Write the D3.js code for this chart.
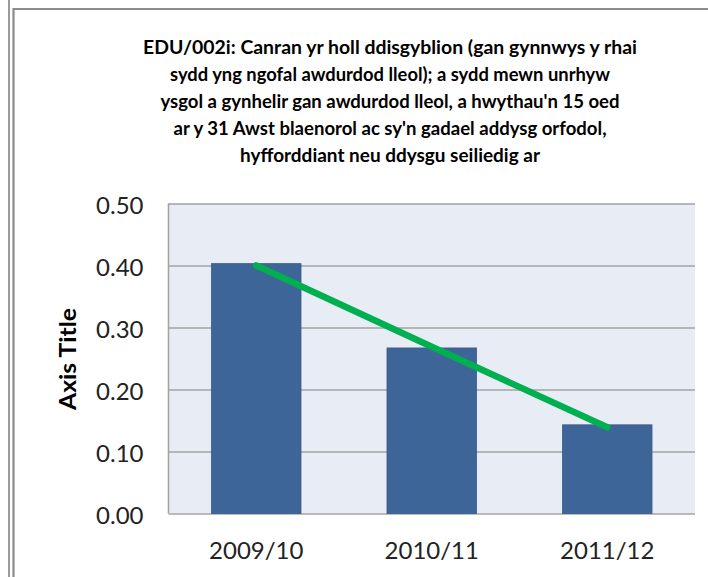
<!DOCTYPE html>
<html>
<head>
<meta charset="utf-8">
<script src="https://cdn.jsdelivr.net/npm/d3@7"></script>
<style>
  body { margin: 0; background: #fff; }
  svg { display: block; }
</style>
</head>
<body>
<div id="chart"></div>
<script>
const categories = ['2009/10', '2010/11', '2011/12'];
const barValues = [0.403, 0.267, 0.143];
const trendValues = [0.40, 0.269, 0.139];
const yTicks = [0, 0.1, 0.2, 0.3, 0.4, 0.5];
const titleLines = [
  'EDU/002i: Canran yr holl ddisgyblion (gan gynnwys y rhai',
  'sydd yng ngofal awdurdod lleol); a sydd mewn unrhyw',
  "ysgol a gynhelir gan awdurdod lleol, a hwythau'n 15 oed",
  "ar y 31 Awst blaenorol ac sy'n gadael addysg orfodol,",
  'hyfforddiant neu ddysgu seiliedig ar'
];
const titleWidths = [494, 440, 459, 433, 300];
const axisTitle = 'Axis Title';

function drawChart() {
  const W = 708, H = 577;
  const plot = { left: 168.5, right: 695, top: 203.5, bottom: 513.5 };
  const font = 'Lato, "Open Sans", sans-serif';

  const svg = d3
    .select('#chart')
    .append('svg')
    .attr('width', W)
    .attr('height', H)
    .style('font-family', font);

  // window frame
  svg
    .append('line')
    .attr('x1', 9).attr('x2', 9)
    .attr('y1', 0).attr('y2', H)
    .attr('stroke', '#9a9a9a')
    .attr('stroke-width', 2);
  svg
    .append('path')
    .attr('d', `M13.5,${H}V9H${W}`)
    .attr('fill', 'none')
    .attr('stroke', '#8c8c8c')
    .attr('stroke-width', 2.2);

  // title
  const title = svg
    .append('text')
    .attr('text-anchor', 'middle')
    .style('font-size', '18.5px')
    .style('font-weight', 'bold')
    .attr('fill', '#000');
  titleLines.forEach((line, i) => {
    title
      .append('tspan')
      .attr('x', 390)
      .attr('y', 53.5 + i * 27)
      .attr('textLength', titleWidths[i])
      .attr('lengthAdjust', 'spacingAndGlyphs')
      .text(line);
  });

  // scales
  const x = d3
    .scaleBand()
    .domain(categories)
    .range([plot.left, plot.right])
    .paddingInner(0.49)
    .paddingOuter(0.245);

  const y = d3
    .scaleLinear()
    .domain([0, 0.5])
    .range([plot.bottom, plot.top]);

  // plot background
  svg
    .append('rect')
    .attr('x', plot.left)
    .attr('y', plot.top)
    .attr('width', plot.right - plot.left)
    .attr('height', plot.bottom - plot.top)
    .attr('fill', '#e8ecf4');

  // gridlines
  svg
    .append('g')
    .attr('transform', `translate(${plot.left},0)`)
    .call(d3.axisLeft(y).tickValues(yTicks).tickSize(-(plot.right - plot.left)).tickFormat(''))
    .call((g) => g.select('.domain').remove())
    .selectAll('line')
    .attr('stroke', '#a3a3a3')
    .attr('stroke-width', 1.6);

  // left border of plot
  svg
    .append('line')
    .attr('x1', plot.left).attr('x2', plot.left)
    .attr('y1', plot.top).attr('y2', plot.bottom)
    .attr('stroke', '#a3a3a3')
    .attr('stroke-width', 1.6);

  // bars
  svg
    .append('g')
    .selectAll('rect')
    .data(barValues)
    .join('rect')
    .attr('x', (d, i) => x(categories[i]))
    .attr('y', (d) => y(d))
    .attr('width', x.bandwidth())
    .attr('height', (d) => y(0) - y(d))
    .attr('fill', '#3e6597')
    .attr('stroke', '#38598a')
    .attr('stroke-width', 0.8);

  // trend line
  const line = d3
    .line()
    .x((d, i) => x(categories[i]) + x.bandwidth() / 2)
    .y((d) => y(d));
  svg
    .append('path')
    .datum(trendValues)
    .attr('d', line)
    .attr('fill', 'none')
    .attr('stroke', '#00b050')
    .attr('stroke-width', 6.5)
    .attr('stroke-linecap', 'round');

  // y axis labels
  svg
    .append('g')
    .attr('transform', `translate(${plot.left},0)`)
    .call(
      d3
        .axisLeft(y)
        .tickValues(yTicks)
        .tickSize(0)
        .tickPadding(25)
        .tickFormat(d3.format('.2f'))
    )
    .call((g) => g.select('.domain').remove())
    .selectAll('text')
    .attr('dy', '0.42em')
    .attr('fill', '#222')
    .style('font-family', font)
    .style('font-size', '24px');

  // x axis labels
  svg
    .append('g')
    .attr('transform', `translate(0,${plot.bottom})`)
    .call(d3.axisBottom(x).tickSize(0).tickPadding(28))
    .call((g) => g.select('.domain').remove())
    .selectAll('text')
    .attr('fill', '#222')
    .style('font-family', font)
    .style('font-size', '24px');

  // axis title
  svg
    .append('text')
    .attr('transform', `translate(76,359) rotate(-90)`)
    .attr('text-anchor', 'middle')
    .style('font-size', '22px')
    .style('font-weight', 'bold')
    .attr('fill', '#000')
    .attr('textLength', 102)
    .attr('lengthAdjust', 'spacingAndGlyphs')
    .text(axisTitle);
}

drawChart();
</script>
</body>
</html>
